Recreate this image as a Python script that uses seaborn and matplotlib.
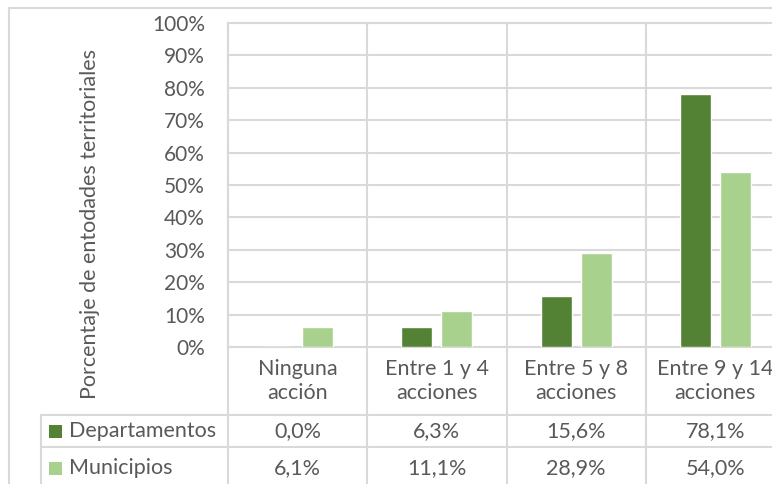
import numpy as np
import pandas as pd
import matplotlib
matplotlib.use("Agg")
import matplotlib.pyplot as plt
import seaborn as sns
from matplotlib.lines import Line2D
from matplotlib.patches import Rectangle

# datos
categorias = ["Ninguna\nacción", "Entre 1 y 4\nacciones", "Entre 5 y 8\nacciones", "Entre 9 y 14\nacciones"]
series = ["Departamentos", "Municipios"]
departamentos = [0.0, 6.3, 15.6, 78.1]
municipios = [6.1, 11.1, 28.9, 54.0]
colores = ["#548235", "#A9D18E"]
yticks = [0, 10, 20, 30, 40, 50, 60, 70, 80, 90, 100]

df = pd.DataFrame({
    "categoria": categorias * 2,
    "serie": [series[0]] * 4 + [series[1]] * 4,
    "valor": departamentos + municipios,
})

sns.set_theme(style="white")
plt.rcParams["font.family"] = ["Lato", "DejaVu Sans"]

gris_txt = "#595959"
gris_linea = "#D9D9D9"
fs = 15.5

W, H = 772, 484
fig = plt.figure(figsize=(W / 100, H / 100), dpi=100)

# area del grafico en pixeles (la ultima categoria queda recortada)
left, right, top, bottom = 228, 785, 23, 347
ax = fig.add_axes([left / W, 1 - bottom / H, (right - left) / W, (bottom - top) / H])

sns.barplot(data=df, x="categoria", y="valor", hue="serie", palette=colores,
            saturation=1, width=0.576, gap=0.226, legend=False, ax=ax, zorder=3)

ax.set_xlim(-0.5, 3.5)
ax.set_ylim(0, 100)
ax.set_yticks(yticks)
ax.set_yticklabels([f"{v}%" for v in yticks], color=gris_txt, fontsize=15)
ax.set_xticks([])
ax.set_xlabel("")
ax.set_ylabel("")
ax.tick_params(axis="y", length=0, pad=16.5)
ax.yaxis.grid(True, color=gris_linea, lw=1.5)
ax.set_axisbelow(True)
for s in ax.spines.values():
    s.set_color(gris_linea)
    s.set_linewidth(1.5)

# lineas de la tabla de datos
y_fondo = -(H + 5 - bottom) / (bottom - top)
def y_ax(ypix):
    return (bottom - ypix) / (bottom - top)

x_izq = (41 - left) / (right - left)
for b in [-0.5, 0.5, 1.5, 2.5, 3.5]:
    ax.plot([b, b], [1, y_fondo], transform=ax.get_xaxis_transform(),
            clip_on=False, color=gris_linea, lw=1.5)
for yp in [414.5, 447]:
    ax.add_line(Line2D([x_izq, 1.05], [y_ax(yp), y_ax(yp)], transform=ax.transAxes,
                       clip_on=False, color=gris_linea, lw=1.5))
ax.add_line(Line2D([x_izq, x_izq], [y_ax(414.5), y_fondo], transform=ax.transAxes,
                   clip_on=False, color=gris_linea, lw=1.5))

# encabezados y valores
for i, cat in enumerate(categorias):
    ax.text(i, y_ax(381), cat, transform=ax.get_xaxis_transform(), ha="center", va="center",
            fontsize=fs, color=gris_txt, linespacing=1.3, clip_on=False)
    ax.text(i, y_ax(431), f"{departamentos[i]:.1f}%".replace(".", ","),
            transform=ax.get_xaxis_transform(), ha="center", va="center",
            fontsize=fs, color=gris_txt, clip_on=False)
    ax.text(i, y_ax(468), f"{municipios[i]:.1f}%".replace(".", ","),
            transform=ax.get_xaxis_transform(), ha="center", va="center",
            fontsize=fs, color=gris_txt, clip_on=False)

# leyenda en la tabla
for nombre, color, yp in zip(series, colores, [431, 468]):
    fig.add_artist(Rectangle((49 / W, 1 - (yp + 6.5) / H), 13 / W, 13 / H,
                             transform=fig.transFigure, facecolor=color, edgecolor="none"))
    fig.text(69 / W, 1 - yp / H, nombre, ha="left", va="center", fontsize=fs, color=gris_txt)

# titulo del eje y
fig.text(90 / W, 1 - 224 / H, "Porcentaje de entodades territoriales", rotation=90,
         ha="center", va="center", fontsize=fs, color=gris_txt)

# borde exterior del grafico
fig.add_artist(Rectangle((9 / W, -0.1), 1.1, 1 - 8 / H + 0.1, transform=fig.transFigure,
                         facecolor="none", edgecolor=gris_linea, lw=1.5))

fig.savefig("out.png", dpi=100)
